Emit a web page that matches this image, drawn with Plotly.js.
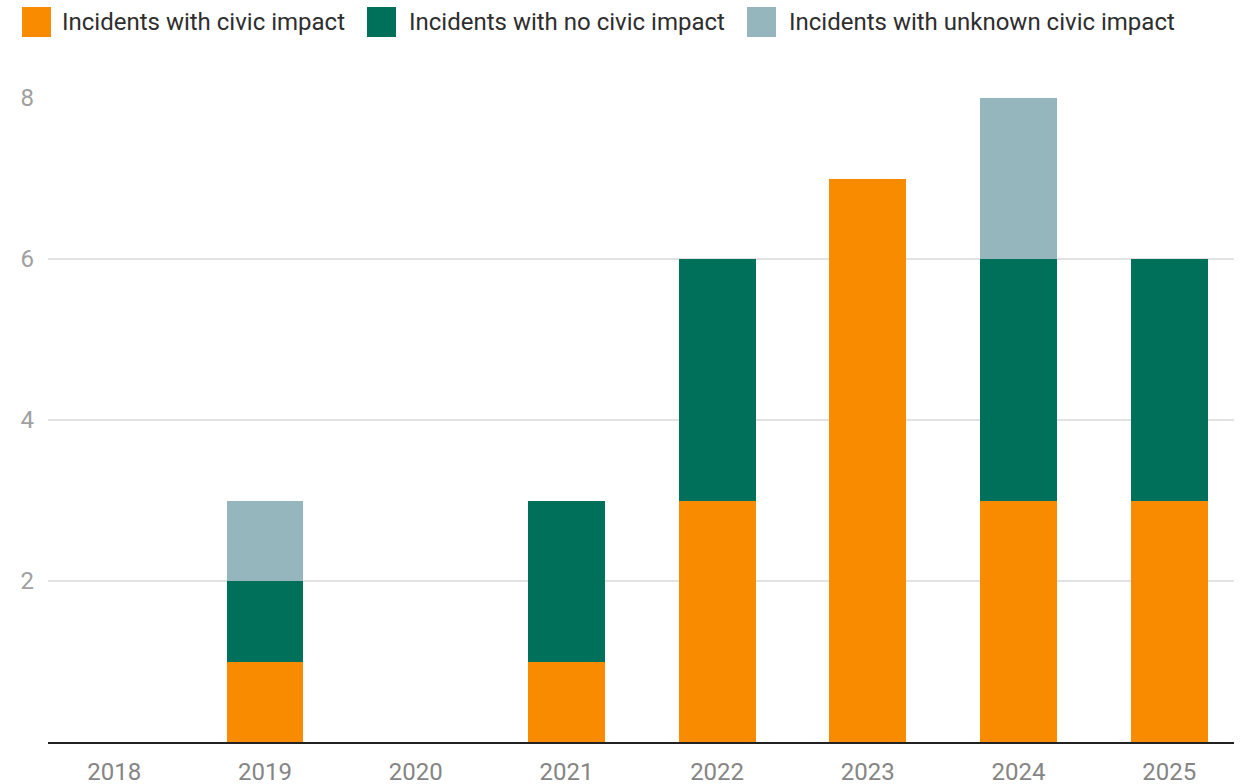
<!DOCTYPE html>
<html>
<head>
<meta charset="utf-8">
<script src="https://cdn.plot.ly/plotly-3.0.1.min.js"></script>
<style>
html,body{margin:0;padding:0;background:#fff;}
#chart{width:1240px;height:784px;}
</style>
</head>
<body>
<div id="chart"></div>
<script>
const years = ["2018","2019","2020","2021","2022","2023","2024","2025"];
const civicImpact = [0,1,0,1,3,7,3,3];
const noCivicImpact = [0,1,0,2,3,0,3,3];
const unknownImpact = [0,1,0,0,0,0,2,0];
const seriesNames = ["Incidents with civic impact","Incidents with no civic impact","Incidents with unknown civic impact"];
const seriesColors = ["#F98B00","#00705A","#94B6BC"];
const yTicks = [2,4,6,8];

const W = 1240, H = 784;
const mL = 48, mR = 6, mT = 98, mB = 42;
const plotW = W - mL - mR, plotH = H - mT - mB;
const px2x = p => (p - mL) / plotW;
const py2y = p => (H - mB - p) / plotH;

const seriesData = [civicImpact, noCivicImpact, unknownImpact];
const traces = seriesData.map((vals, i) => ({
  type: "bar",
  x: years,
  y: vals,
  name: seriesNames[i],
  marker: {color: seriesColors[i], line: {width: 0}},
  hoverinfo: "x+y+name"
}));

// legend drawn as shapes + text
const legendSquares = [22, 367, 747];
const legendText = [60, 407, 787];
const shapes = [];
const annotations = [];
seriesNames.forEach((n, i) => {
  shapes.push({
    type: "rect", xref: "paper", yref: "paper",
    x0: px2x(legendSquares[i]), x1: px2x(legendSquares[i] + 29),
    y0: py2y(37), y1: py2y(7),
    fillcolor: seriesColors[i], line: {width: 0}
  });
  annotations.push({
    xref: "paper", yref: "paper",
    x: px2x(legendText[i]), y: py2y(22),
    xanchor: "left", yanchor: "middle",
    text: n, showarrow: false,
    font: {family: "Roboto", size: 24, color: "#2e2e2e"}
  });
});

const layout = {
  width: W, height: H,
  margin: {l: mL, r: mR, t: mT, b: mB, pad: 0},
  paper_bgcolor: "#ffffff",
  plot_bgcolor: "#ffffff",
  barmode: "stack",
  bargap: 0.49,
  showlegend: false,
  font: {family: "Roboto", size: 22, color: "#888888"},
  xaxis: {
    type: "category",
    range: [-0.44, 7.43],
    showgrid: false,
    zeroline: false,
    showline: true,
    linecolor: "#222222",
    linewidth: 2,
    ticks: "",
    ticklabelstandoff: 7,
    tickfont: {family: "Roboto", size: 24, color: "#858585"},
    fixedrange: true
  },
  yaxis: {
    range: [0, 8],
    tickvals: yTicks,
    ticktext: yTicks.map(String),
    showgrid: true,
    gridcolor: "#e2e2e2",
    gridwidth: 2,
    zeroline: false,
    showline: false,
    ticks: "",
    ticklabelstandoff: 13,
    tickfont: {family: "Roboto", size: 24, color: "#a0a0a0"},
    fixedrange: true
  },
  shapes: shapes,
  annotations: annotations
};

Plotly.newPlot("chart", traces, layout, {displayModeBar: false, staticPlot: true});
</script>
</body>
</html>
